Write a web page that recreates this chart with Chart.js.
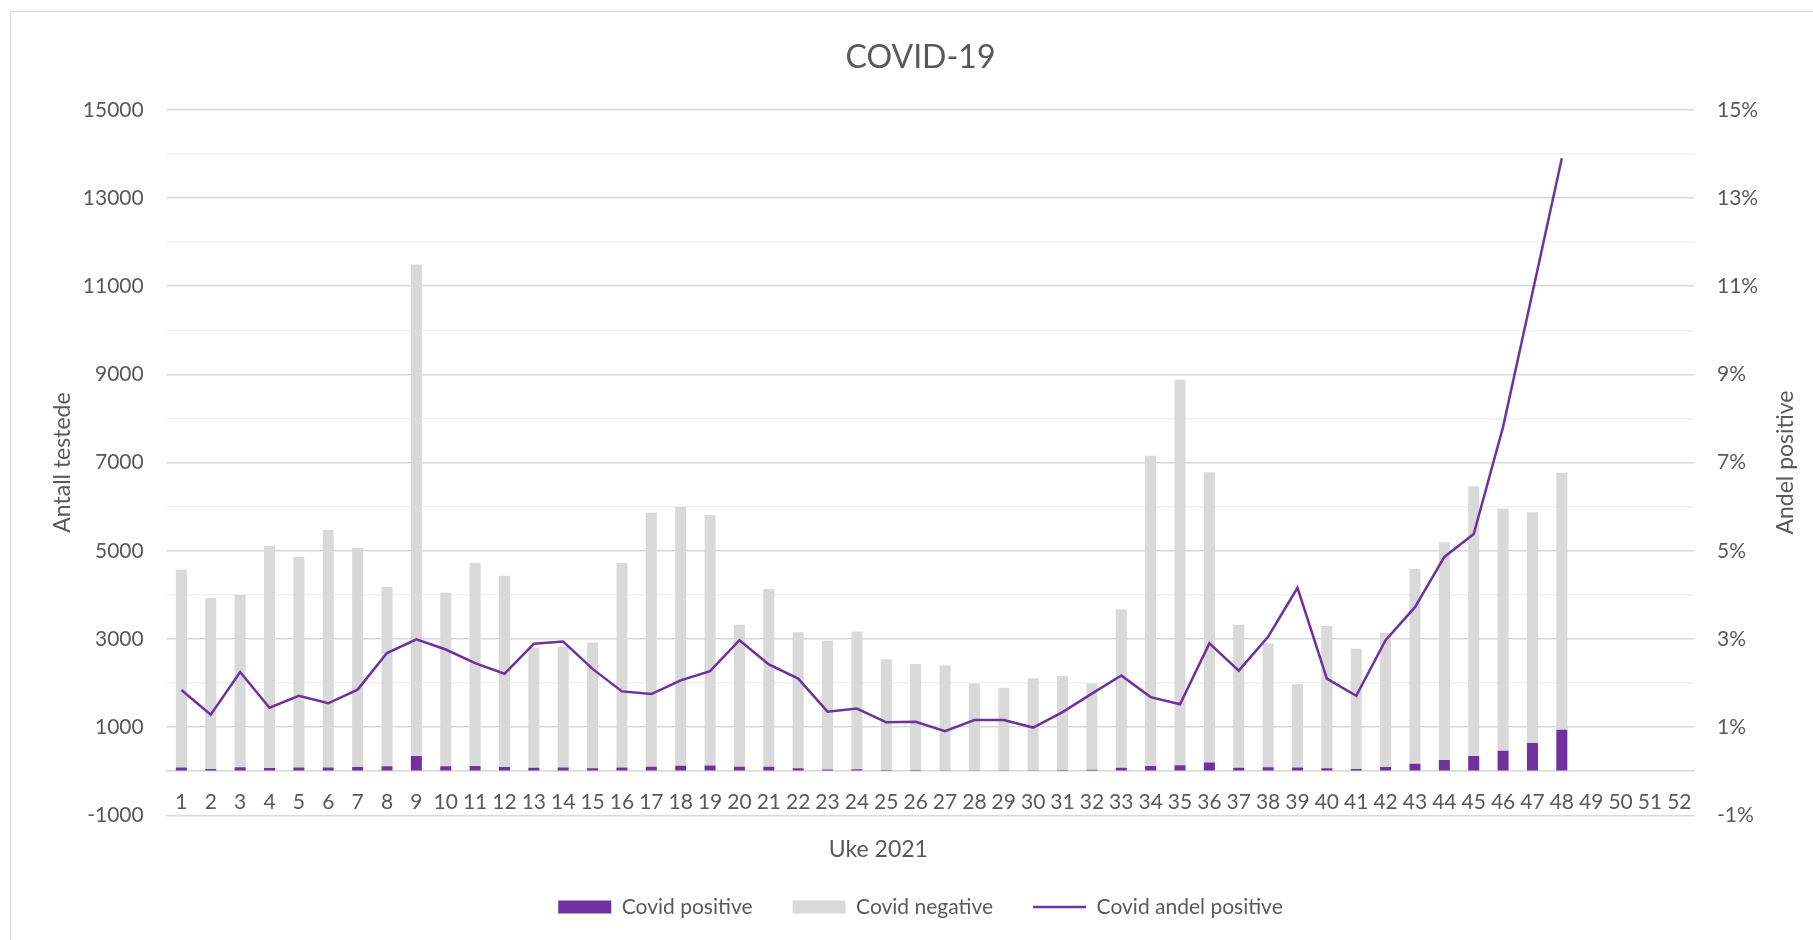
<!DOCTYPE html>
<html>
<head>
<meta charset="utf-8">
<title>COVID-19</title>
<script src="https://cdn.jsdelivr.net/npm/chart.js@4.4.1/dist/chart.umd.min.js"></script>
<style>
  html, body { margin: 0; padding: 0; background: #fff; overflow: hidden; }
  #frame { position: absolute; left: 10px; top: 11px; width: 1900px; height: 1000px; border: 1px solid #d9d9d9; }
  #chart { position: absolute; left: 0; top: 0; }
</style>
</head>
<body>
<div id="frame"></div>
<canvas id="chart" width="1813" height="940"></canvas>
<script>
const text_color = '#595959';
const purple = '#7030a0';
const light_gray = '#d9d9d9';

const weeks = ['1','2','3','4','5','6','7','8','9','10','11','12','13','14','15','16','17','18','19','20',
    '21','22','23','24','25','26','27','28','29','30','31','32','33','34','35','36','37','38','39','40',
    '41','42','43','44','45','46','47','48','49','50','51','52'];

// antall positive / negative per uke (uke 49-52 ikke registrert enda)
const covid_positive = [84, 50, 90, 74, 83, 84, 94, 112, 344, 112, 116, 98, 81, 83, 68, 85, 103, 124, 132, 99,
    100, 66, 40, 45, 28, 27, 22, 23, 22, 21, 29, 35, 80, 120, 135, 197, 76, 88, 82, 69,
    48, 93, 171, 252, 347, 465, 637, 941, null, null, null, null];
const covid_negative = [4486, 3880, 3910, 5036, 4777, 5386, 4966, 4068, 11146, 3938, 4614, 4332, 2719, 2737, 2852, 4635, 5757, 5876, 5678, 3221,
    4030, 3084, 2920, 3125, 2512, 2403, 2378, 1967, 1868, 2089, 2131, 1955, 3585, 7035, 8740, 6583, 3244, 2812, 1888, 3223,
    2732, 3042, 4423, 4938, 6113, 5495, 5238, 5830, null, null, null, null];
// andel positive i prosent
const andel_positive = [1.84, 1.28, 2.25, 1.44, 1.71, 1.54, 1.85, 2.68, 2.99, 2.76, 2.45, 2.21, 2.89, 2.94, 2.32, 1.81, 1.75, 2.06, 2.27, 2.97,
    2.42, 2.10, 1.35, 1.42, 1.11, 1.12, 0.91, 1.16, 1.16, 0.99, 1.34, 1.76, 2.17, 1.68, 1.52, 2.90, 2.28, 3.05, 4.16, 2.10,
    1.71, 2.97, 3.72, 4.86, 5.38, 7.81, 10.85, 13.90, null, null, null, null];

const left_ticks = [-1000, 1000, 3000, 5000, 7000, 9000, 11000, 13000, 15000];
const right_ticks = [-1, 1, 3, 5, 7, 9, 11, 13, 15];

const tick_font = { family: 'Lato', size: 21 };

// titles Excel puts where Chart.js can't: off-centre x title and a right title reading upwards
var extraTitles = {
    id: 'extraTitles',
    afterDraw(chart) {
        var ctx = chart.ctx;
        var area = chart.chartArea;
        ctx.save();
        ctx.fillStyle = text_color;
        ctx.font = '23px Lato';
        ctx.textAlign = 'center';
        ctx.textBaseline = 'middle';
        ctx.fillText('Uke 2021', (area.left + area.right) / 2 - 52, area.bottom + 34);
        ctx.translate(area.right + 92, (area.top + area.bottom) / 2);
        ctx.rotate(-Math.PI / 2);
        ctx.fillText('Andel positive', 0, 0);
        ctx.restore();
    }
};

var chart = new Chart(document.getElementById('chart'), {
    data: {
        labels: weeks,
        datasets: [
            {
                type: 'bar',
                label: 'Covid positive',
                data: covid_positive,
                backgroundColor: purple,
                borderWidth: 0,
                pointStyle: 'rect',
                order: 1
            },
            {
                type: 'bar',
                label: 'Covid negative',
                data: covid_negative,
                backgroundColor: light_gray,
                borderWidth: 0,
                pointStyle: 'rect',
                order: 1
            },
            {
                type: 'line',
                label: 'Covid andel positive',
                data: andel_positive,
                yAxisID: 'y2',
                borderColor: purple,
                backgroundColor: purple,
                borderWidth: 2.5,
                pointRadius: 0,
                pointStyle: 'line',
                tension: 0,
                order: 0
            }
        ]
    },
    options: {
        responsive: false,
        animation: false,
        layout: { padding: { left: 28, right: 0, top: 0, bottom: 12.5 } },
        datasets: {
            bar: { categoryPercentage: 1.0, barPercentage: 0.375 }
        },
        plugins: {
            title: {
                display: true,
                text: 'COVID-19',
                color: text_color,
                font: { family: 'Lato', size: 32, weight: 'normal' },
                padding: { top: 38, bottom: 33.4 }
            },
            legend: {
                position: 'bottom',
                title: { display: true, text: '', font: { size: 10 }, padding: { top: 29.2, bottom: 0 } },
                labels: {
                    color: text_color,
                    font: { family: 'Lato', size: 21 },
                    usePointStyle: true,
                    pointStyleWidth: 53,
                    boxHeight: 13,
                    padding: 40,
                    sort: function(a, b) { return a.datasetIndex - b.datasetIndex; }
                }
            },
            tooltip: { enabled: false }
        },
        scales: {
            x: {
                stacked: true,
                position: { y: 0 },
                grid: { display: false },
                border: { display: true, color: light_gray, width: 1.5 },
                ticks: {
                    color: text_color,
                    font: tick_font,
                    padding: 10,
                    autoSkip: false,
                    maxRotation: 0
                }
            },
            y: {
                stacked: true,
                position: 'left',
                min: -1000,
                max: 15000,
                afterFit: function(scale) { scale.width = 138.7; },
                border: { display: false },
                grid: {
                    drawTicks: false,
                    lineWidth: 1.5,
                    color: function(c) { return left_ticks.includes(c.tick.value) ? light_gray : '#f2f2f2'; }
                },
                ticks: {
                    stepSize: 1000,
                    autoSkip: false,
                    color: text_color,
                    font: tick_font,
                    padding: 23,
                    callback: function(v) { return left_ticks.includes(v) ? String(v) : ''; }
                },
                title: {
                    display: true,
                    text: 'Antall testede',
                    color: text_color,
                    font: { family: 'Lato', size: 23 },
                    padding: { top: 21.2, bottom: 0 }
                }
            },
            y2: {
                position: 'right',
                min: -1,
                max: 15,
                afterFit: function(scale) { scale.width = 119; },
                border: { display: false },
                grid: { display: false, drawTicks: false },
                ticks: {
                    stepSize: 1,
                    autoSkip: false,
                    color: text_color,
                    font: tick_font,
                    padding: 23,
                    callback: function(v) { return right_ticks.includes(v) ? v + '%' : ''; }
                }
            }
        }
    },
    plugins: [extraTitles]
});
</script>
</body>
</html>
